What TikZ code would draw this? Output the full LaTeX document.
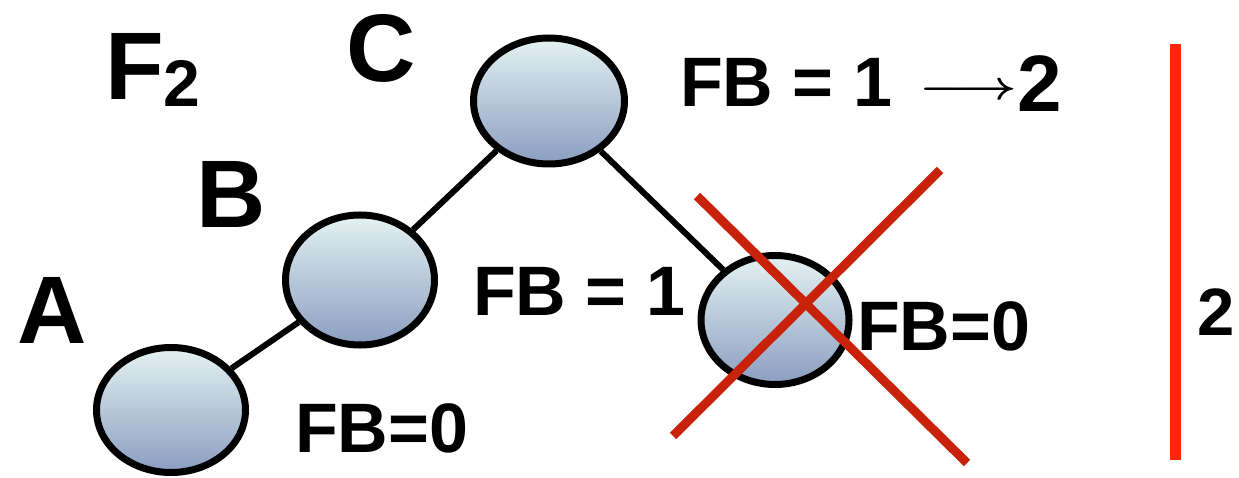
\documentclass[tikz,border=0pt]{standalone}
\usepackage{fontspec}
\usepackage{graphicx}
\setmainfont{Liberation Sans}
\usetikzlibrary{shapes.geometric}
\definecolor{gtop}{RGB}{228,242,242}
\definecolor{gbot}{RGB}{138,157,192}
\definecolor{xred}{RGB}{200,35,10}
\definecolor{vred}{RGB}{255,38,0}
\tikzset{
  treenode/.style={ellipse, draw=black, line width=7pt, top color=gtop, bottom color=gbot, inner sep=0pt},
  treeline/.style={draw=black, line width=6pt},
  crossline/.style={draw=xred, line width=9pt},
  lbl/.style={anchor=base west, inner sep=0pt, font=\bfseries\fontsize{70}{70}\selectfont},
  biglbl/.style={anchor=base west, inner sep=0pt, font=\bfseries\fontsize{96}{96}\selectfont},
}
\begin{document}
\begin{tikzpicture}[x=1pt,y=-1pt]
\useasboundingbox (0,0) rectangle (1239,478);
% tree nodes
\node[treenode, minimum width=151pt, minimum height=126pt] (C) at (549,101) {};
\node[treenode, minimum width=149pt, minimum height=130pt] (B) at (360,280) {};
\node[treenode, minimum width=149pt, minimum height=125pt] (A) at (171,410) {};
\node[treenode, minimum width=148pt, minimum height=129pt] (D) at (775,320) {};
% connectors
\draw[treeline] (C) -- (B);
\draw[treeline] (B) -- (A);
\draw[treeline] (C) -- (D);
% letters
\node[biglbl] (f2) at (105,100) {F\raisebox{-7pt}{\fontsize{66}{66}\selectfont 2}};
\node[biglbl] (lc) at (346,82) {C};
\node[biglbl] (lb) at (196,228) {B};
\node[biglbl] (la) at (17,343) {A};
% FB labels
\node[lbl] (fbc) at (680,107) {FB = 1};
\node[anchor=base west, inner sep=0pt] (arr) at (919,100) {\resizebox{98pt}{16pt}{\boldmath$\longrightarrow$}};
\node[anchor=base west, inner sep=0pt, font=\bfseries\fontsize{80}{80}\selectfont] (two) at (1017,112) {2};
\node[lbl] (fbb) at (473,315) {FB = 1};
\node[lbl] (fba) at (295,452) {FB=0};
\node[lbl] (fbd) at (857,350) {FB=0};
% cross over D
\coordinate (x1s) at (697,196);
\coordinate (x1e) at (967,463);
\coordinate (x2s) at (940,170);
\coordinate (x2e) at (673,436);
\draw[crossline] (x1s) -- (x1e);
\draw[crossline] (x2s) -- (x2e);
% height bar
\coordinate (vt) at (1175,44);
\coordinate (vb) at (1175,460);
\draw[draw=vred, line width=11pt] (vt) -- (vb);
\node[anchor=base west, inner sep=0pt, font=\bfseries\fontsize{67}{67}\selectfont] (h) at (1197,335) {2};
\end{tikzpicture}
\end{document}
